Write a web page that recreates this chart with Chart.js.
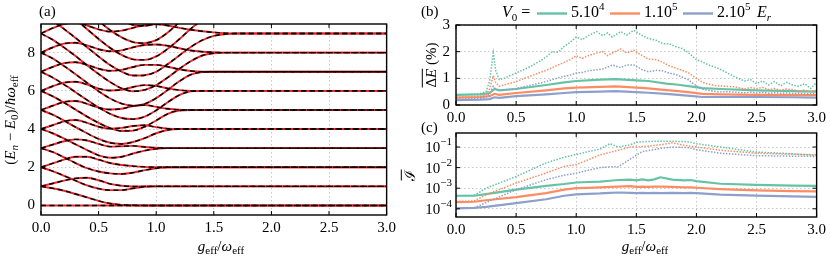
<!DOCTYPE html>
<html><head><meta charset="utf-8">
<script src="https://cdn.jsdelivr.net/npm/chart.js@4.4.1/dist/chart.umd.min.js"></script>
<style>
body{margin:0;background:#fff;width:830px;height:260px;overflow:hidden;position:relative;font-family:"Liberation Serif"}
canvas{position:absolute}
</style></head><body>
<canvas id="ca" width="400" height="260" style="left:0;top:0"></canvas>
<canvas id="cb" width="430" height="130" style="left:400px;top:0"></canvas>
<canvas id="cc" width="430" height="140" style="left:400px;top:120px"></canvas>
<script>
// ---------- data ----------
const xTicks = [0, 0.5, 1.0, 1.5, 2.0, 2.5, 3.0];
const yTicksA = [0, 2, 4, 6, 8];
const yTicksB = [0, 1, 2, 3];
const yTicksC = [1e-4, 1e-3, 1e-2, 1e-1];
const yTickExpC = ['4', '3', '2', '1'];

// panel (a): spectrum, sampled at gGrid
const gGrid = [0,0.1,0.2,0.3,0.4,0.5,0.6,0.7,0.8,0.9,1.0,1.1,1.2,1.3,1.4,1.5,1.6,1.7,3.0];
const lv0a = [0,0,0,0,0,0,0,0,0,0,0,0,0,0,0,0,0,0,0];
const lv0b = [1,0.9,0.77,0.6,0.42,0.24,0.1,0.03,0.01,0,0,0,0,0,0,0,0,0,0];
const lv1a = [1,1.15,1.3,1.42,1.45,1.32,1.13,1.03,1.0,1,1,1,1,1,1,1,1,1,1];
const lv1b = [2,1.8,1.55,1.3,1.05,0.88,0.8,0.8,0.9,0.98,1,1,1,1,1,1,1,1,1];
const lv2a = [2,2.2,2.4,2.55,2.55,2.4,2.22,2.12,2.06,2.02,2,2,2,2,2,2,2,2,2];
const lv2b = [3,2.8,2.52,2.22,1.95,1.78,1.68,1.65,1.72,1.85,1.95,2,2,2,2,2,2,2,2];
const lv3a = [3,3.18,3.36,3.46,3.4,3.22,3.08,3.1,3.12,3.06,3.02,3,3,3,3,3,3,3,3];
const lv3b = [4,3.78,3.5,3.2,2.9,2.62,2.5,2.55,2.72,2.87,2.96,3,3,3,3,3,3,3,3];
const lv4a = [4,4.2,4.4,4.47,4.32,4.12,4.02,4.06,4.16,4.2,4.1,4.02,4,4,4,4,4,4,4];
const lv4b = [5,4.75,4.44,4.1,3.78,3.48,3.28,3.22,3.32,3.52,3.78,3.95,4,4,4,4,4,4,4];
const lv5a = [5,5.22,5.42,5.47,5.32,5.12,5.02,5.06,5.2,5.26,5.16,5.06,5.01,5,5,5,5,5,5];
const lv5b = [6,5.72,5.38,5.02,4.65,4.32,4.05,3.9,3.92,4.12,4.45,4.8,4.97,5,5,5,5,5,5];
const lv6a = [6,6.24,6.43,6.48,6.33,6.12,6.02,6.06,6.2,6.3,6.26,6.13,6.04,6.0,6,6,6,6,6];
const lv6b = [7,6.7,6.33,5.93,5.52,5.13,4.8,4.58,4.52,4.65,4.98,5.4,5.78,5.97,6,6,6,6,6];
const lv7a = [7,7.25,7.45,7.5,7.36,7.16,7.05,7.1,7.25,7.36,7.36,7.26,7.13,7.04,7.0,7,7,7,7];
const lv7b = [8,7.7,7.3,6.87,6.42,5.98,5.6,5.33,5.22,5.32,5.62,6.05,6.5,6.85,6.98,7,7,7,7];
const lv8a = [8,8.27,8.47,8.52,8.38,8.18,8.07,8.12,8.28,8.4,8.43,8.36,8.23,8.11,8.05,8.02,8,8,8];
const lv8b = [9,8.68,8.27,7.82,7.34,6.88,6.46,6.13,5.98,6.05,6.3,6.7,7.15,7.55,7.85,7.97,8,8,8];
const lv9a = [9,9.28,9.5,9.56,9.42,9.22,9.1,9.15,9.3,9.44,9.48,9.42,9.3,9.2,9.12,9.06,9.02,9.0,9];
const lv9b = [10,9.67,9.24,8.77,8.28,7.8,7.35,7.0,6.8,6.82,7.0,7.4,7.85,8.3,8.65,8.88,8.97,9,9];
const lv10b = [11,10.65,10.22,9.74,9.23,8.72,8.25,7.88,7.65,7.62,7.8,8.2,8.7,9.25,9.7,9.92,10,10,10];
const lv11b = [12,11.65,11.2,10.7,10.18,9.66,9.18,8.8,8.55,8.5,8.65,9.05,9.6,10.2,10.7,10.95,11,11,11];
const lv12b = [13,12.65,12.2,11.7,11.15,10.62,10.12,9.72,9.45,9.4,9.55,9.95,10.5,11.1,11.6,11.9,12,12,12];
const spectrum = [lv0a,lv0b,lv1a,lv1b,lv2a,lv2b,lv3a,lv3b,lv4a,lv4b,lv5a,lv5b,lv6a,lv6b,lv7a,lv7b,lv8a,lv8b,lv9a,lv9b,lv10b,lv11b,lv12b];

// panel (b): mean energy error (%)
const gB = [0,0.1,0.2,0.25,0.28,0.31,0.33,0.36,0.4,0.5,0.6,0.7,0.75,0.8,0.85,0.9,0.95,1.0,1.05,1.1,1.17,1.22,1.26,1.3,1.37,1.42,1.48,1.55,1.6,1.67,1.72,1.77,1.82,1.88,1.93,2.0,2.05,2.1,2.17,2.25,2.32,2.4,2.45,2.5,2.55,2.6,2.65,2.7,2.75,2.8,2.85,2.9,2.95,3.0];
const dEgreenDot = [0.38,0.4,0.43,0.5,0.9,1.95,1.3,0.95,1.0,1.2,1.4,1.65,1.8,2.0,1.98,2.2,2.35,2.55,2.45,2.6,2.75,2.6,2.7,2.55,2.75,2.62,2.8,2.6,2.5,2.42,2.3,2.3,2.2,2.12,1.98,1.7,1.62,1.5,1.4,1.22,1.05,0.9,0.95,0.8,0.9,0.75,0.88,0.72,0.85,0.75,0.7,0.8,0.62,0.85];
const dEorangeDot = [0.3,0.31,0.33,0.38,0.6,1.1,0.85,0.7,0.75,0.88,1.05,1.22,1.3,1.4,1.5,1.6,1.7,1.85,1.75,1.85,1.95,2.0,1.85,1.95,2.1,1.95,2.05,1.85,1.72,1.7,1.6,1.48,1.4,1.3,1.22,1.0,0.85,0.78,0.72,0.7,0.68,0.6,0.65,0.62,0.66,0.58,0.62,0.55,0.6,0.58,0.52,0.56,0.5,0.55];
const dEblueDot = [0.22,0.23,0.25,0.3,0.45,0.7,0.6,0.55,0.57,0.62,0.72,0.82,0.88,0.95,1.02,1.08,1.12,1.2,1.22,1.28,1.32,1.35,1.42,1.5,1.4,1.5,1.5,1.32,1.25,1.3,1.28,1.2,1.15,1.05,0.95,0.72,0.6,0.55,0.5,0.5,0.48,0.46,0.48,0.45,0.47,0.44,0.46,0.44,0.45,0.43,0.44,0.43,0.42,0.44];
const gBs = [0,0.2,0.28,0.32,0.36,0.5,0.75,0.9,1.0,1.2,1.33,1.5,1.6,1.75,1.85,1.95,2.05,2.2,2.5,2.8,3.0];
const dEgreen = [0.38,0.4,0.45,0.6,0.55,0.6,0.75,0.85,0.9,0.95,0.97,0.92,0.9,0.8,0.76,0.7,0.63,0.6,0.55,0.52,0.5];
const dEorange = [0.28,0.3,0.33,0.42,0.38,0.45,0.55,0.62,0.65,0.68,0.7,0.65,0.62,0.56,0.52,0.47,0.42,0.4,0.38,0.37,0.37];
const dEblue = [0.18,0.2,0.22,0.29,0.27,0.33,0.4,0.45,0.48,0.5,0.52,0.48,0.46,0.42,0.38,0.34,0.3,0.3,0.3,0.29,0.28];

// panel (c): mean infidelity
const gC = [0,0.15,0.25,0.5,0.75,0.9,1.0,1.1,1.2,1.28,1.35,1.45,1.5,1.55,1.6,1.65,1.7,1.8,1.9,1.95,2.0,2.2,2.5,2.8,3.0];
const IgreenDot = [4.3e-4,4.5e-4,1e-3,3.7e-3,1.7e-2,3.2e-2,4.3e-2,6e-2,8e-2,1.45e-1,1.0e-1,1.3e-1,1.7e-1,1.8e-1,1.85e-1,1.9e-1,1.9e-1,1.9e-1,1.85e-1,1.7e-1,1.45e-1,1.0e-1,5.7e-2,4.7e-2,3.9e-2];
const IorangeDot = [2.3e-4,2.4e-4,4.8e-4,1.8e-3,5.5e-3,1.15e-2,1.4e-2,2.4e-2,4.2e-2,5.5e-2,7e-2,1.0e-1,1.0e-1,1.05e-1,1.1e-1,1.2e-1,1.3e-1,1.6e-1,1.2e-1,1.1e-1,1.0e-1,7e-2,5e-2,4.5e-2,4.2e-2];
const IblueDot = [1.05e-4,1.1e-4,2e-4,8.5e-4,2.6e-3,4.3e-3,5.4e-3,7.5e-3,1.0e-2,1.1e-2,1.1e-2,2.6e-2,4e-2,6e-2,6.8e-2,7.5e-2,8.5e-2,1.0e-1,9.5e-2,9e-2,7.4e-2,5e-2,3.8e-2,3.6e-2,3.5e-2];
const Igreen = [4.3e-4,4.3e-4,5.2e-4,8.5e-4,1.3e-3,1.6e-3,1.9e-3,2.0e-3,2.1e-3,2.3e-3,2.5e-3,2.6e-3,2.4e-3,2.7e-3,2.4e-3,2.7e-3,3.4e-3,2.6e-3,2.4e-3,2.5e-3,2.2e-3,1.65e-3,1.45e-3,1.35e-3,1.3e-3];
const Iorange = [2.1e-4,2.2e-4,2.6e-4,3.7e-4,5.8e-4,8.5e-4,1.0e-3,1.05e-3,1.1e-3,1.15e-3,1.2e-3,1.25e-3,1.15e-3,1.2e-3,1.15e-3,1.2e-3,1.2e-3,1.15e-3,1.1e-3,1.1e-3,1.05e-3,9e-4,7.8e-4,7.3e-4,7e-4];
const Iblue = [1.05e-4,1.1e-4,1.25e-4,1.9e-4,2.9e-4,4.3e-4,5e-4,5.3e-4,5.6e-4,6e-4,6.2e-4,6.0e-4,5.8e-4,5.9e-4,5.8e-4,5.9e-4,5.8e-4,5.9e-4,5.8e-4,6e-4,5.8e-4,4.9e-4,4.4e-4,4e-4,3.8e-4];

const legendLabels = [['5.10','4'],['1.10','5'],['2.10','5']];

// ---------- styling ----------
const FONT = '"Liberation Serif", "Times New Roman", serif';
const GREEN = '#66c2a5', ORANGE = '#fc8d62', BLUE = '#8da0cb';

function pts(xs, ys){ return xs.map((x,i)=>({x:x, y:ys[i]})); }

function rich(ctx, parts, x, y, size, align, rot){
  ctx.save(); ctx.translate(x,y); if(rot) ctx.rotate(rot);
  const items = parts.map(p=>{
    const t=p[0], f=p[1]||'';
    const small = f.includes('s')||f.includes('p');
    const sz = small ? Math.round(size*0.7) : size;
    const font = (f.includes('i')?'italic ':'') + sz + 'px ' + (f.includes('c')?'"DejaVu Serif", serif':FONT);
    ctx.font = font;
    return {t, f, font, w: ctx.measureText(t).width, dy: f.includes('s') ? size*0.3 : (f.includes('p') ? -size*0.38 : 0)};
  });
  const total = items.reduce((a,b)=>a+b.w,0);
  let cx = align==='center' ? -total/2 : (align==='right' ? -total : 0);
  ctx.textBaseline='middle'; ctx.fillStyle='#000';
  for(const it of items){
    ctx.font = it.font; ctx.fillText(it.t, cx, it.dy);
    if(it.f.includes('o')) ctx.fillRect(cx, -size*0.68, it.w, 1);
    cx += it.w;
  }
  ctx.restore();
}

function build(){
Chart.defaults.font.family = FONT;
Chart.defaults.font.size = 15;
Chart.defaults.color = '#000';

const framePlugin = {id:'frame', afterDraw(c){
  const ctx=c.ctx, a=c.chartArea;
  ctx.save(); ctx.strokeStyle='#000'; ctx.lineWidth=1.4;
  ctx.strokeRect(a.left, a.top, a.right-a.left, a.bottom-a.top);
  ctx.lineWidth=1; ctx.beginPath();
  const xs=c.scales.x, ys=c.scales.y;
  xs.ticks.forEach(t=>{const p=xs.getPixelForValue(t.value); ctx.moveTo(p,a.bottom); ctx.lineTo(p,a.bottom-4); ctx.moveTo(p,a.top); ctx.lineTo(p,a.top+4);});
  ys.ticks.forEach(t=>{const p=ys.getPixelForValue(t.value); ctx.moveTo(a.left,p); ctx.lineTo(a.left+4,p); ctx.moveTo(a.right,p); ctx.lineTo(a.right-4,p);});
  ctx.stroke(); ctx.restore();
}};

const gridOpt = {color:'#b8b8b8', lineWidth:0.8, drawTicks:false};
const borderOpt = {display:false, dash:[1.5,2.5]};
function xScale(h){
  return {type:'linear', min:0, max:3,
    afterBuildTicks:s=>{s.ticks = xTicks.map(v=>({value:v}));},
    afterFit:s=>{s.height=h;},
    grid:gridOpt, border:borderOpt,
    ticks:{padding:4, maxRotation:0, autoSkip:false, font:{family:FONT,size:15}, callback:v=>Number(v).toFixed(1)}};
}
const baseOpts = {responsive:false, animation:false, events:[], plugins:{legend:{display:false}, tooltip:{enabled:false}}};

// ---------- panel (a) ----------
const dsA = [];
spectrum.forEach(arr=>{
  dsA.push({data:pts(gGrid,arr), borderColor:'#e8262a', borderWidth:1.9, pointRadius:0, cubicInterpolationMode:'monotone', order:2});
  dsA.push({data:pts(gGrid,arr), borderColor:'#000', borderWidth:1.4, borderDash:[5,3.5], pointRadius:0, cubicInterpolationMode:'monotone', order:1});
});
new Chart(document.getElementById('ca'), {
  type:'line', data:{datasets:dsA},
  options:Object.assign({}, baseOpts, {
    layout:{padding:{top:24, right:4, left:0, bottom:0}},
    scales:{
      x:xScale(45),
      y:{type:'linear', min:-0.5, max:9.5,
        afterBuildTicks:s=>{s.ticks = yTicksA.map(v=>({value:v}));},
        afterFit:s=>{s.width=41;},
        grid:gridOpt, border:borderOpt, ticks:{padding:6, font:{family:FONT,size:15}, callback:v=>String(v)}}
    }}),
  plugins:[framePlugin, {id:'txtA', afterDraw(c){
    const ctx=c.ctx;
    rich(ctx, [['(a)']], 39, 12, 15, 'left');
    rich(ctx, [['('],['E','i'],['n','is'],[' − '],['E','i'],['0','s'],[')/'],['ħ','i'],['ω','i'],['eff','s']], 11, 120, 15, 'center', -Math.PI/2);
    rich(ctx, [['g','i'],['eff','s'],['/'],['ω','i'],['eff','s']], 221, 247, 15, 'center');
  }}]
});

// ---------- panel (b) ----------
function lineDs(xs, ys, color, dotted){
  return {data:pts(xs,ys), borderColor:color, borderWidth:dotted?1.5:2.2, borderDash:dotted?[1.5,1.5]:[], pointRadius:0, tension:0};
}
new Chart(document.getElementById('cb'), {
  type:'line',
  data:{datasets:[
    lineDs(gB,dEgreenDot,GREEN,true), lineDs(gB,dEorangeDot,ORANGE,true), lineDs(gB,dEblueDot,BLUE,true),
    lineDs(gBs,dEgreen,GREEN,false), lineDs(gBs,dEorange,ORANGE,false), lineDs(gBs,dEblue,BLUE,false)]},
  options:Object.assign({}, baseOpts, {
    layout:{padding:{top:25, right:11, left:0, bottom:0}},
    scales:{
      x:xScale(25),
      y:{type:'linear', min:0, max:3,
        afterBuildTicks:s=>{s.ticks = yTicksB.map(v=>({value:v}));},
        afterFit:s=>{s.width=56;},
        grid:gridOpt, border:borderOpt, ticks:{padding:6, font:{family:FONT,size:15}, callback:v=>String(v)}}
    }}),
  plugins:[framePlugin, {id:'txtB', afterDraw(c){
    const ctx=c.ctx;
    rich(ctx, [['(b)']], 21, 12, 15, 'left');
    rich(ctx, [['Δ','o'],['E','io'],[' (%)']], 32, 65, 15, 'center', -Math.PI/2);
    rich(ctx, [['V','i'],['0','s'],[' =']], 102, 13, 16, 'left');
    const cols=[GREEN,ORANGE,BLUE], lx=[137,210,283];
    ctx.save(); ctx.lineWidth=2.4;
    cols.forEach((col,i)=>{ctx.strokeStyle=col; ctx.beginPath(); ctx.moveTo(lx[i],13.5); ctx.lineTo(lx[i]+30,13.5); ctx.stroke();
      rich(ctx, [[legendLabels[i][0]],[legendLabels[i][1],'p']], lx[i]+34, 13, 16, 'left');});
    ctx.restore();
    rich(ctx, [['E','i'],['r','is']], 357, 13, 16, 'left');
  }}]
});

// ---------- panel (c) ----------
new Chart(document.getElementById('cc'), {
  type:'line',
  data:{datasets:[
    lineDs(gC,IgreenDot,GREEN,true), lineDs(gC,IorangeDot,ORANGE,true), lineDs(gC,IblueDot,BLUE,true),
    lineDs(gC,Igreen,GREEN,false), lineDs(gC,Iorange,ORANGE,false), lineDs(gC,Iblue,BLUE,false)]},
  options:Object.assign({}, baseOpts, {
    layout:{padding:{top:13, right:11, left:0, bottom:0}},
    scales:{
      x:xScale(43),
      y:{type:'logarithmic', min:4e-5, max:0.48,
        afterBuildTicks:s=>{s.ticks = yTicksC.map(v=>({value:v}));},
        afterFit:s=>{s.width=56;},
        grid:gridOpt, border:borderOpt, ticks:{display:false}}
    }}),
  plugins:[framePlugin, {id:'txtC', afterDraw(c){
    const ctx=c.ctx, ys=c.scales.y;
    rich(ctx, [['(c)']], 21, 8, 15, 'left');
    yTicksC.forEach((v,i)=>{ rich(ctx, [['10'],['−'+yTickExpC[i],'p']], 52, ys.getPixelForValue(v)+1, 15, 'right'); });
    rich(ctx, [['ℐ','oc']], 11, 55, 15, 'center', -Math.PI/2);
    rich(ctx, [['g','i'],['eff','s'],['/'],['ω','i'],['eff','s']], 245, 127, 15, 'center');
  }}]
});
}

const fontLoads = ['15px "Liberation Serif"', 'italic 15px "Liberation Serif"', '15px "DejaVu Serif"'].map(f=>document.fonts.load(f).catch(()=>null));
Promise.all(fontLoads).then(build, build);
</script>
</body></html>
